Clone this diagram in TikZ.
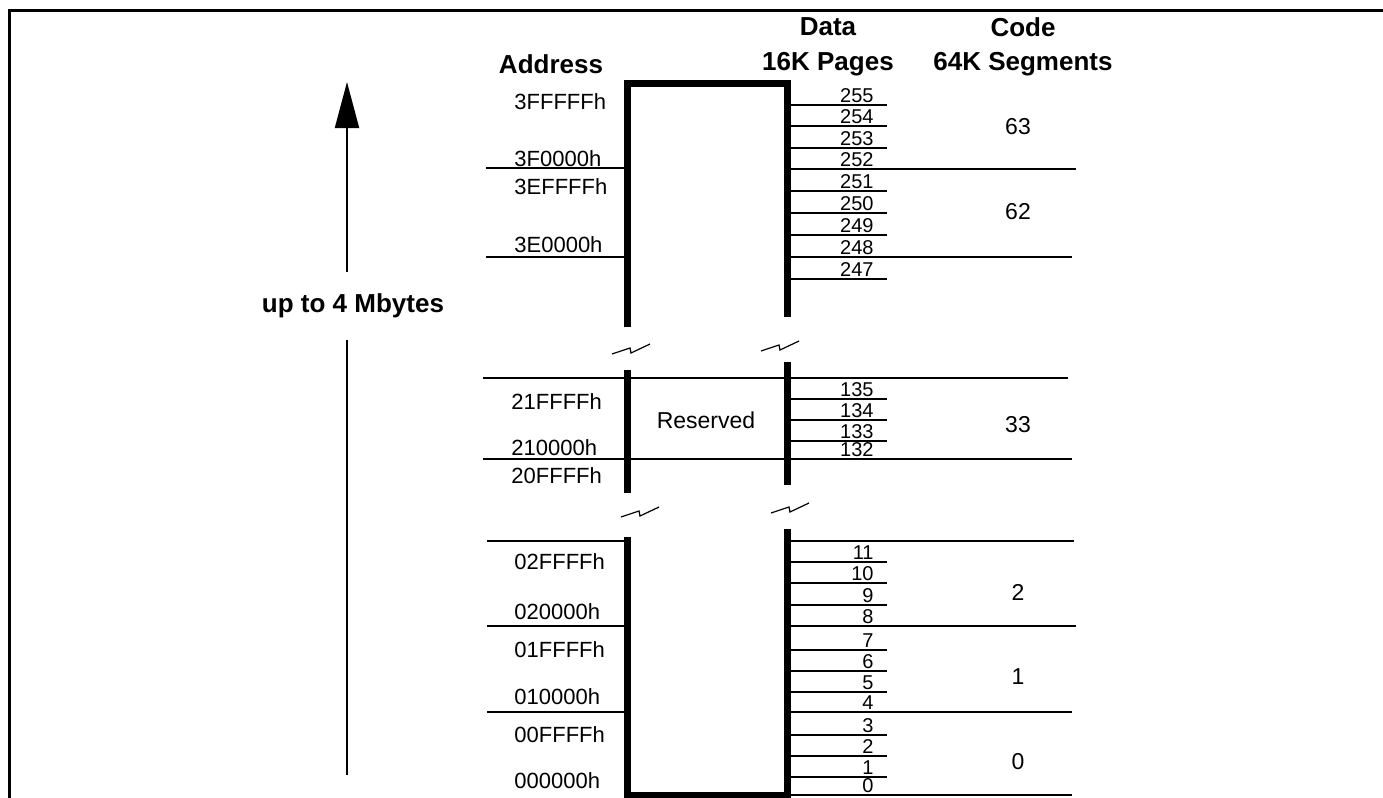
\documentclass[tikz,border=0pt]{standalone}
\usepackage{fontspec}
\setmainfont{Liberation Sans}
\usetikzlibrary{arrows.meta}
\begin{document}
\begin{tikzpicture}[x=0.5pt,y=-0.5pt,>=stealth,
	wall/.style={line width=3.5pt,line join=miter},
	rule/.style={line width=1pt},
	hdr/.style={font=\fontsize{13}{15}\selectfont\bfseries},
	addr/.style={anchor=west,inner sep=0pt,font=\fontsize{11}{13}\selectfont},
	pg/.style={anchor=south east,inner sep=1pt,font=\fontsize{10}{12}\selectfont},
	seg/.style={font=\fontsize{11.5}{13}\selectfont}]
	
	\useasboundingbox (0,0) rectangle (1383,798);
	
	%----------------------
	% Parameters
	%----------------------
	\def\xL{627}    % left wall
	\def\xR{787}    % right wall
	\def\xA{486}    % start of address lines
	\def\xT{887}    % end of page ticks
	\def\xS{1073}   % end of segment lines
	\def\xP{876}    % right edge of page numbers
	\def\xN{1018}   % segment numbers
	
	% Frame
	\draw[line width=1.5pt] (9,798)--(9,10)--(1383,10);
	
	% Headings
	\node[hdr] (address) at (551,64) {Address};
	\node[hdr] (data) at (828,27) {Data};
	\node[hdr] (pages) at (828,64) {16K Pages};
	\node[hdr] (code) at (1023,27) {Code};
	\node[hdr] (segments) at (1023,64) {64K Segments};
	
	% Size arrow
	\coordinate (arrtop) at (347,82);
	\coordinate (arrbot) at (347,775);
	\node[hdr,minimum height=34pt,inner sep=0pt] (size) at (353,306) {up to 4 Mbytes};
	\draw[line width=1pt,-{Triangle[width=12pt,length=23pt]}] (size.north -| arrtop)--(arrtop);
	\draw[line width=1pt] (size.south -| arrbot)--(arrbot);
	
	%----------------------
	% Walls of the map
	%----------------------
	\draw[wall] (\xL,327)--(\xL,83)--(\xR,83)--(\xR,317);
	\draw[wall] (\xL,370)--(\xL,493) (\xR,362)--(\xR,485);
	\draw[wall] (\xL,537)--(\xL,795)--(\xR,795)--(\xR,529);
	
	% Breaks
	\foreach \bx/\by in {631/349,780/346,640/512,790/508}
	\draw[line width=0.6pt,shift={(\bx,\by)}] (-19,5)--(-1,-1)--(0,4)--(19,-5);
	
	%----------------------
	% Segment 63 and 62
	%----------------------
	\draw[rule] (\xA,168)--(\xL,168) (\xA,257)--(\xL,257);
	\draw[rule] (\xR,169)--(1076,169) (\xR,257)--(1072,257);
	\foreach \y in {105,126,148,191,213,235,279}
	\draw[rule] (\xR,\y)--(\xT,\y);
	\foreach \y/\n in {105/255,126/254,148/253,169/252,191/251,213/250,235/249,257/248,279/247}
	\node[pg] (p\n) at (\xP,\y) {\n};
	
	\node[addr] (a3FFFFF) at (514,102) {3FFFFFh};
	\node[addr] (a3F0000) at (514,159) {3F0000h};
	\node[addr] (a3EFFFF) at (514,187) {3EFFFFh};
	\node[addr] (a3E0000) at (514,245) {3E0000h};
	\node[seg] (s63) at (\xN,127) {63};
	\node[seg] (s62) at (\xN,212) {62};
	
	%----------------------
	% Segment 33
	%----------------------
	\draw[rule] (483,378)--(1068,378) (483,459)--(1072,459);
	\foreach \y in {399,420,441}
	\draw[rule] (\xR,\y)--(\xT,\y);
	\foreach \y/\n in {399/135,420/134,441/133,459/132}
	\node[pg] (p\n) at (\xP,\y) {\n};
	
	\node[addr] (a21FFFF) at (511,402) {21FFFFh};
	\node[addr] (a210000) at (511,448) {210000h};
	\node[addr] (a20FFFF) at (511,476) {20FFFFh};
	\node[seg] (reserved) at (706,420) {Reserved};
	\node[seg] (s33) at (\xN,425) {33};
	
	%----------------------
	% Segment 2, 1 and 0
	%----------------------
	\draw[rule] (487,541)--(\xL,541) (487,626)--(\xL,626) (487,712)--(\xL,712);
	\draw[rule] (\xR,541)--(1074,541) (\xR,626)--(1076,626) (\xR,712)--(1072,712) (\xR,795)--(1072,795);
	\foreach \y in {562,583,605,650,671,692,735,756,777}
	\draw[rule] (\xR,\y)--(\xT,\y);
	\foreach \y/\n in {562/11,583/10,605/9,626/8,650/7,671/6,692/5,712/4,735/3,756/2,777/1,795/0}
	\node[pg] (p\n) at (\xP,\y) {\n};
	
	\node[addr] (a02FFFF) at (514,562) {02FFFFh};
	\node[addr] (a020000) at (514,612) {020000h};
	\node[addr] (a01FFFF) at (514,650) {01FFFFh};
	\node[addr] (a010000) at (514,697) {010000h};
	\node[addr] (a00FFFF) at (514,735) {00FFFFh};
	\node[addr] (a000000) at (514,781) {000000h};
	\node[seg] (s2) at (\xN,592) {2};
	\node[seg] (s1) at (\xN,677) {1};
	\node[seg] (s0) at (\xN,762) {0};
	
\end{tikzpicture}
\end{document}
